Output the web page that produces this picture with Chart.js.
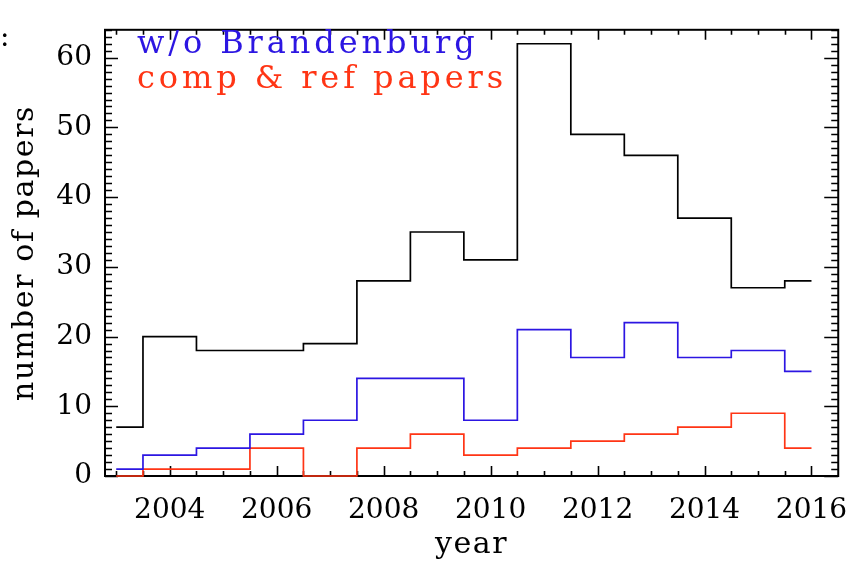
<!DOCTYPE html>
<html><head><meta charset="utf-8">
<script src="https://cdn.jsdelivr.net/npm/chart.js@4/dist/chart.umd.min.js"></script>
<style>html,body{margin:0;padding:0;background:#fff;overflow:hidden}#wrap{width:866px;height:562px;position:relative}</style>
</head><body><div id="wrap"><canvas id="c"></canvas></div>
<script>
// ---- data ----
const years = [2003,2004,2005,2006,2007,2008,2009,2010,2011,2012,2013,2014,2015,2016];
const allPapers = [7,20,18,18,19,28,35,31,62,49,46,37,27,28];
const withoutBrandenburg = [1,3,4,6,8,14,14,8,21,17,22,17,18,15];
const compRefPapers = [0,1,1,4,0,4,6,3,4,5,6,7,9,4];
const xTickLabels = [2004,2006,2008,2010,2012,2014,2016];
const yTickLabels = [0,10,20,30,40,50,60];
const legendLabels = ['w/o Brandenburg','comp & ref papers'];
const xTitle = 'year';
const yTitle = 'number of papers';
const strayText = ':';

const FONT = '"DejaVu Serif", "Liberation Serif", serif';
const BLUE = '#2c16e2';
const RED = '#ff3515';

function pts(arr){ return years.map((x,i)=>({x:x, y:arr[i]})); }

const framePlugin = {
  id:'frame',
  beforeDatasetsDraw(chart){
    const ctx = chart.ctx, ca = chart.chartArea;
    const xs = chart.scales.x, ys = chart.scales.y;
    ctx.save();
    ctx.strokeStyle = '#000';
    ctx.lineWidth = 1.6;
    ctx.beginPath();
    for (let v = Math.ceil(xs.min*2)/2; v <= xs.max - 0.01; v += 0.5){
      const px = Math.round(xs.getPixelForValue(v)) + 0.5;
      const major = xTickLabels.includes(v);
      const L = major ? 10 : 5;
      ctx.moveTo(px, ca.bottom); ctx.lineTo(px, ca.bottom - L);
      ctx.moveTo(px, ca.top); ctx.lineTo(px, ca.top + L);
    }
    for (let v = Math.ceil(ys.min); v <= ys.max; v += 1){
      const py = Math.round(ys.getPixelForValue(v)) + 0.5;
      const major = yTickLabels.includes(v);
      ctx.moveTo(ca.left, py); ctx.lineTo(ca.left + (major ? 13 : 7), py);
      ctx.moveTo(ca.right, py); ctx.lineTo(ca.right - (major ? 14 : 7), py);
    }
    ctx.stroke();
    ctx.lineWidth = 2;
    ctx.strokeRect(ca.left, ca.top, ca.right - ca.left, ca.bottom - ca.top);
    ctx.restore();
  },
  afterDraw(chart){
    const ctx = chart.ctx, ca = chart.chartArea;
    ctx.save();
    ctx.textBaseline = 'alphabetic';
    ctx.font = '32px ' + FONT;
    ctx.letterSpacing = '3.9px';
    ctx.textAlign = 'left';
    ctx.fillStyle = BLUE;
    ctx.fillText(legendLabels[0], 137, 53);
    ctx.fillStyle = RED;
    ctx.fillText(legendLabels[1], 137, 88);

    ctx.fillStyle = '#000';
    ctx.font = '30px ' + FONT;
    ctx.letterSpacing = '1.6px';
    ctx.textAlign = 'center';
    ctx.fillText(xTitle, (ca.left + ca.right)/2, 553);
    ctx.save();
    ctx.translate(33, (ca.top + ca.bottom)/2);
    ctx.rotate(-Math.PI/2);
    ctx.fillText(yTitle, 0, 0);
    ctx.restore();
    ctx.letterSpacing = '0px';
    ctx.font = '28px ' + FONT;
    ctx.textAlign = 'left';
    ctx.fillText(strayText, 0, 46);
    ctx.restore();
  }
};

new Chart(document.getElementById('c'), {
  type:'line',
  data:{ datasets:[
    {label:'all', data:pts(allPapers), borderColor:'#000', borderWidth:1.7, stepped:'middle', pointRadius:0, fill:false, clip:false},
    {label:legendLabels[0], data:pts(withoutBrandenburg), borderColor:BLUE, borderWidth:1.7, stepped:'middle', pointRadius:0, fill:false, clip:false},
    {label:legendLabels[1], data:pts(compRefPapers), borderColor:RED, borderWidth:1.7, stepped:'middle', pointRadius:0, fill:false, clip:false}
  ]},
  options:{
    responsive:true, maintainAspectRatio:false, animation:false,
    layout:{ padding:{ top:10, right:24, left:0, bottom:0 } },
    plugins:{ legend:{display:false}, tooltip:{enabled:false} },
    scales:{
      x:{ type:'linear', min:2002.79, max:2016.5,
          afterBuildTicks(s){ s.ticks = xTickLabels.map(v=>({value:v})); },
          afterFit(s){ s.height = 86; },
          grid:{display:false, drawTicks:false}, border:{display:false},
          ticks:{ color:'#000', font:{family:FONT, size:28}, padding:18, maxRotation:0, autoSkip:false,
                  callback:(v)=>String(v) } },
      y:{ min:0, max:64,
          afterBuildTicks(s){ s.ticks = yTickLabels.map(v=>({value:v})); },
          afterFit(s){ s.width = 105; },
          grid:{display:false, drawTicks:false}, border:{display:false},
          ticks:{ color:'#000', font:{family:FONT, size:28}, padding:13, autoSkip:false,
                  callback:(v)=>String(v) } }
    }
  },
  plugins:[framePlugin]
});
</script></body></html>
